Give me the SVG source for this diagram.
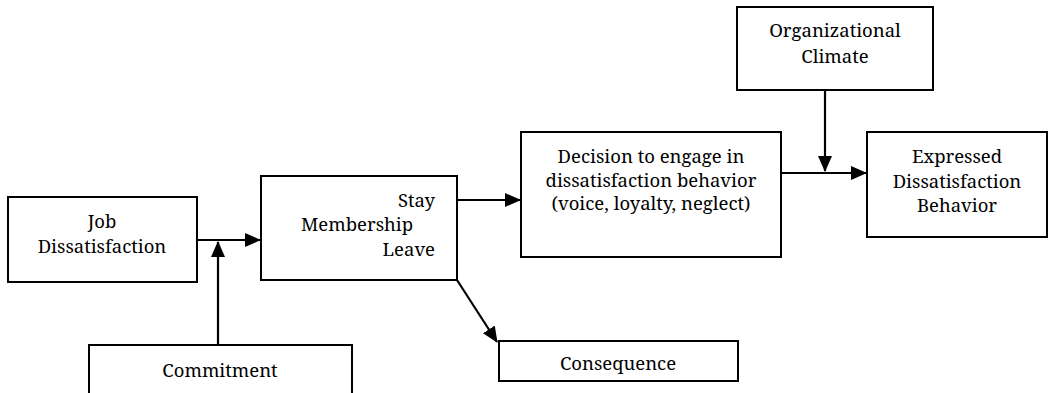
<svg xmlns="http://www.w3.org/2000/svg" width="1050" height="393" viewBox="0 0 1050 393">
<style>
.box{fill:#fff;stroke:#000;stroke-width:2}
.t{font-family:'Noto Serif','Liberation Serif',serif;font-size:18.5px;fill:#000}
.c{text-anchor:middle}
.r{text-anchor:end}
.ln{stroke:#000;stroke-width:2.2;fill:none}
</style>
<defs>
<marker id="ah" markerUnits="userSpaceOnUse" markerWidth="16" markerHeight="14" refX="15" refY="7" orient="auto">
<path d="M0,0 L16,7 L0,14 Z" fill="#000"/>
</marker>
</defs>
<rect width="1050" height="393" fill="#fff"/>
<g id="connectors">
<line class="ln" x1="197" y1="240" x2="260" y2="240" marker-end="url(#ah)"/>
<line class="ln" x1="218" y1="345" x2="218" y2="242" marker-end="url(#ah)"/>
<line class="ln" x1="457" y1="200" x2="520" y2="200" marker-end="url(#ah)"/>
<line class="ln" x1="457" y1="280" x2="497" y2="342" marker-end="url(#ah)"/>
<line class="ln" x1="781" y1="173" x2="866" y2="173" marker-end="url(#ah)"/>
<line class="ln" x1="825" y1="90" x2="825" y2="171" marker-end="url(#ah)"/>
</g>
<g id="job">
<rect class="box" x="8" y="197" width="189" height="85"/>
<text class="t c" x="102" y="228">Job</text>
<text class="t c" x="102" y="253">Dissatisfaction</text>
</g>
<g id="membership">
<rect class="box" x="261" y="176" width="196" height="104"/>
<text class="t r" x="435" y="207">Stay</text>
<text class="t r" x="413" y="231">Membership</text>
<text class="t r" x="435" y="256">Leave</text>
</g>
<g id="decision">
<rect class="box" x="521" y="132" width="260" height="125"/>
<text class="t c" x="651" y="163">Decision to engage in</text>
<text class="t c" x="651" y="187">dissatisfaction behavior</text>
<text class="t c" x="651" y="210">(voice, loyalty, neglect)</text>
</g>
<g id="climate">
<rect class="box" x="737" y="7" width="196" height="83"/>
<text class="t c" x="835" y="37">Organizational</text>
<text class="t c" x="835" y="63">Climate</text>
</g>
<g id="expressed">
<rect class="box" x="867" y="132" width="180" height="105"/>
<text class="t c" x="957" y="163">Expressed</text>
<text class="t c" x="957" y="188">Dissatisfaction</text>
<text class="t c" x="957" y="212">Behavior</text>
</g>
<g id="commitment">
<rect class="box" x="89" y="345" width="263" height="60"/>
<text class="t c" x="220" y="377">Commitment</text>
</g>
<g id="consequence">
<rect class="box" x="499" y="341" width="239" height="40"/>
<text class="t c" x="618" y="370">Consequence</text>
</g>
</svg>
